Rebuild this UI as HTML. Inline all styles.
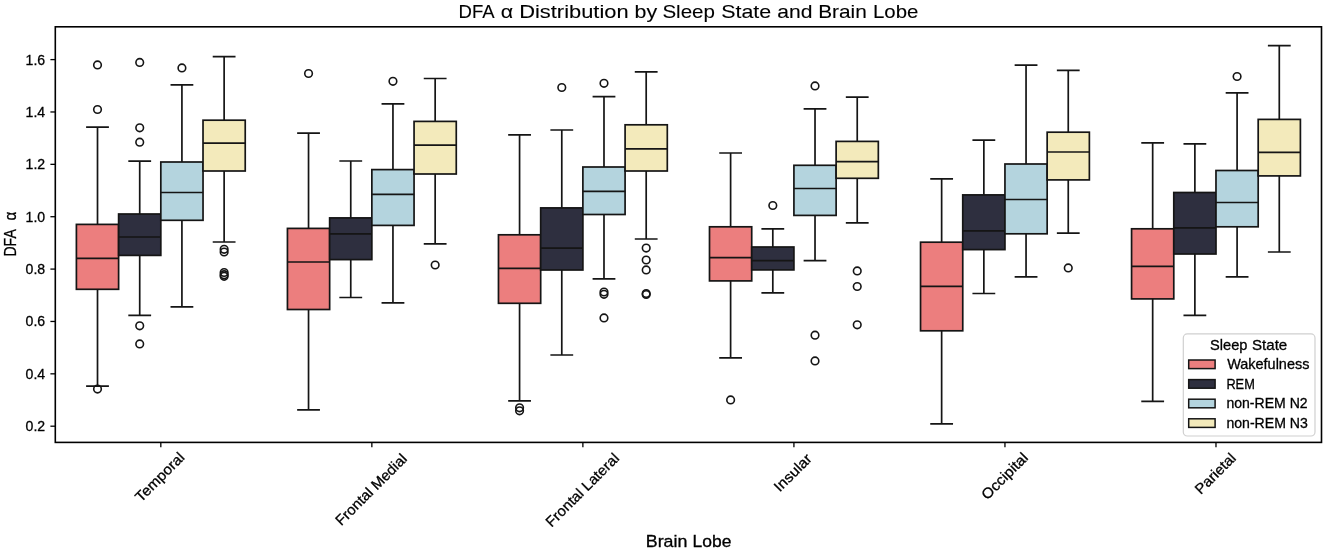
<!DOCTYPE html>
<html><head><meta charset="utf-8"><style>
html,body{margin:0;padding:0;background:#fff;}
svg{display:block;will-change:transform;}
text{font-family:"Liberation Sans",sans-serif;fill:#000;stroke:#000;stroke-width:0.3px;}
</style></head><body>
<svg width="1326" height="551" viewBox="0 0 1326 551">
<rect width="1326" height="551" fill="#fff"/>
<text x="458.6" y="18.3" font-size="19" style="stroke-width:0.1px" textLength="36.0" lengthAdjust="spacingAndGlyphs">DFA</text><text x="500.8" y="18.3" font-size="19" style="stroke-width:0.1px" textLength="12.4" lengthAdjust="spacingAndGlyphs">α</text><text x="519.2" y="18.3" font-size="19" style="stroke-width:0.1px" textLength="109.4" lengthAdjust="spacingAndGlyphs">Distribution</text><text x="634.6" y="18.3" font-size="19" style="stroke-width:0.1px" textLength="22.6" lengthAdjust="spacingAndGlyphs">by</text><text x="662.4" y="18.3" font-size="19" style="stroke-width:0.1px" textLength="52.6" lengthAdjust="spacingAndGlyphs">Sleep</text><text x="721.2" y="18.3" font-size="19" style="stroke-width:0.1px" textLength="50.0" lengthAdjust="spacingAndGlyphs">State</text><text x="777.2" y="18.3" font-size="19" style="stroke-width:0.1px" textLength="35.2" lengthAdjust="spacingAndGlyphs">and</text><text x="818.2" y="18.3" font-size="19" style="stroke-width:0.1px" textLength="48.6" lengthAdjust="spacingAndGlyphs">Brain</text><text x="873.0" y="18.3" font-size="19" style="stroke-width:0.1px" textLength="45.4" lengthAdjust="spacingAndGlyphs">Lobe</text>
<path d="M97.51 224.4V127.2M86.95 127.2H108.06M97.51 289.3V386.1M86.95 386.1H108.06" stroke="#151515" stroke-width="1.7" fill="none" stroke-linecap="square"/>
<rect x="76.4" y="224.4" width="42.21" height="64.9" fill="#ec7e7e" stroke="#151515" stroke-width="1.7"/>
<path d="M76.4 258.4H118.61" stroke="#151515" stroke-width="1.7"/>
<circle cx="97.51" cy="64.9" r="3.8" fill="none" stroke="#151515" stroke-width="1.6"/>
<circle cx="97.51" cy="109.5" r="3.8" fill="none" stroke="#151515" stroke-width="1.6"/>
<circle cx="97.51" cy="389.1" r="3.8" fill="none" stroke="#151515" stroke-width="1.6"/>
<path d="M139.71 214V161.2M129.16 161.2H150.27M139.71 255.4V315.3M129.16 315.3H150.27" stroke="#151515" stroke-width="1.7" fill="none" stroke-linecap="square"/>
<rect x="118.61" y="214" width="42.21" height="41.4" fill="#2e2f3f" stroke="#151515" stroke-width="1.7"/>
<path d="M118.61 237H160.82" stroke="#151515" stroke-width="1.7"/>
<circle cx="139.71" cy="62.4" r="3.8" fill="none" stroke="#151515" stroke-width="1.6"/>
<circle cx="139.71" cy="127.8" r="3.8" fill="none" stroke="#151515" stroke-width="1.6"/>
<circle cx="139.71" cy="142.2" r="3.8" fill="none" stroke="#151515" stroke-width="1.6"/>
<circle cx="139.71" cy="325.8" r="3.8" fill="none" stroke="#151515" stroke-width="1.6"/>
<circle cx="139.71" cy="343.9" r="3.8" fill="none" stroke="#151515" stroke-width="1.6"/>
<path d="M181.92 162V84.9M171.37 84.9H192.47M181.92 220.3V306.9M171.37 306.9H192.47" stroke="#151515" stroke-width="1.7" fill="none" stroke-linecap="square"/>
<rect x="160.82" y="162" width="42.21" height="58.3" fill="#b4d4de" stroke="#151515" stroke-width="1.7"/>
<path d="M160.82 192.5H203.02" stroke="#151515" stroke-width="1.7"/>
<circle cx="181.92" cy="67.9" r="3.8" fill="none" stroke="#151515" stroke-width="1.6"/>
<path d="M224.13 120.2V56.6M213.57 56.6H234.68M224.13 171V242M213.57 242H234.68" stroke="#151515" stroke-width="1.7" fill="none" stroke-linecap="square"/>
<rect x="203.02" y="120.2" width="42.21" height="50.8" fill="#f3eabb" stroke="#151515" stroke-width="1.7"/>
<path d="M203.02 143.2H245.23" stroke="#151515" stroke-width="1.7"/>
<circle cx="224.13" cy="249.3" r="3.8" fill="none" stroke="#151515" stroke-width="1.6"/>
<circle cx="224.13" cy="252" r="3.8" fill="none" stroke="#151515" stroke-width="1.6"/>
<circle cx="224.13" cy="272.5" r="3.8" fill="none" stroke="#151515" stroke-width="1.6"/>
<circle cx="224.13" cy="274.7" r="3.8" fill="none" stroke="#151515" stroke-width="1.6"/>
<circle cx="224.13" cy="276.3" r="3.8" fill="none" stroke="#151515" stroke-width="1.6"/>
<path d="M308.54 228.4V133.2M297.99 133.2H319.09M308.54 309.5V409.8M297.99 409.8H319.09" stroke="#151515" stroke-width="1.7" fill="none" stroke-linecap="square"/>
<rect x="287.44" y="228.4" width="42.21" height="81.1" fill="#ec7e7e" stroke="#151515" stroke-width="1.7"/>
<path d="M287.44 262H329.64" stroke="#151515" stroke-width="1.7"/>
<circle cx="308.54" cy="73.5" r="3.8" fill="none" stroke="#151515" stroke-width="1.6"/>
<path d="M350.75 217.9V161M340.19 161H361.3M350.75 259.6V297.5M340.19 297.5H361.3" stroke="#151515" stroke-width="1.7" fill="none" stroke-linecap="square"/>
<rect x="329.64" y="217.9" width="42.21" height="41.7" fill="#2e2f3f" stroke="#151515" stroke-width="1.7"/>
<path d="M329.64 233.8H371.85" stroke="#151515" stroke-width="1.7"/>
<path d="M392.95 169.6V103.9M382.4 103.9H403.51M392.95 225.4V302.9M382.4 302.9H403.51" stroke="#151515" stroke-width="1.7" fill="none" stroke-linecap="square"/>
<rect x="371.85" y="169.6" width="42.21" height="55.8" fill="#b4d4de" stroke="#151515" stroke-width="1.7"/>
<path d="M371.85 194.3H414.06" stroke="#151515" stroke-width="1.7"/>
<circle cx="392.95" cy="81.3" r="3.8" fill="none" stroke="#151515" stroke-width="1.6"/>
<path d="M435.16 121.4V78.5M424.61 78.5H445.71M435.16 174V243.8M424.61 243.8H445.71" stroke="#151515" stroke-width="1.7" fill="none" stroke-linecap="square"/>
<rect x="414.06" y="121.4" width="42.21" height="52.6" fill="#f3eabb" stroke="#151515" stroke-width="1.7"/>
<path d="M414.06 145.2H456.26" stroke="#151515" stroke-width="1.7"/>
<circle cx="435.16" cy="265" r="3.8" fill="none" stroke="#151515" stroke-width="1.6"/>
<path d="M519.57 234.8V134.8M509.02 134.8H530.12M519.57 303.3V400.9M509.02 400.9H530.12" stroke="#151515" stroke-width="1.7" fill="none" stroke-linecap="square"/>
<rect x="498.47" y="234.8" width="42.21" height="68.5" fill="#ec7e7e" stroke="#151515" stroke-width="1.7"/>
<path d="M498.47 268.4H540.68" stroke="#151515" stroke-width="1.7"/>
<circle cx="519.57" cy="407.8" r="3.8" fill="none" stroke="#151515" stroke-width="1.6"/>
<circle cx="519.57" cy="410.8" r="3.8" fill="none" stroke="#151515" stroke-width="1.6"/>
<path d="M561.78 207.9V130M551.23 130H572.33M561.78 270V355M551.23 355H572.33" stroke="#151515" stroke-width="1.7" fill="none" stroke-linecap="square"/>
<rect x="540.68" y="207.9" width="42.21" height="62.1" fill="#2e2f3f" stroke="#151515" stroke-width="1.7"/>
<path d="M540.68 248.2H582.88" stroke="#151515" stroke-width="1.7"/>
<circle cx="561.78" cy="87.5" r="3.8" fill="none" stroke="#151515" stroke-width="1.6"/>
<path d="M603.99 167V96.7M593.44 96.7H614.54M603.99 214.5V278.9M593.44 278.9H614.54" stroke="#151515" stroke-width="1.7" fill="none" stroke-linecap="square"/>
<rect x="582.88" y="167" width="42.21" height="47.5" fill="#b4d4de" stroke="#151515" stroke-width="1.7"/>
<path d="M582.88 191.3H625.09" stroke="#151515" stroke-width="1.7"/>
<circle cx="603.99" cy="83.3" r="3.8" fill="none" stroke="#151515" stroke-width="1.6"/>
<circle cx="603.99" cy="292" r="3.8" fill="none" stroke="#151515" stroke-width="1.6"/>
<circle cx="603.99" cy="294.3" r="3.8" fill="none" stroke="#151515" stroke-width="1.6"/>
<circle cx="603.99" cy="317.9" r="3.8" fill="none" stroke="#151515" stroke-width="1.6"/>
<path d="M646.19 124.8V71.9M635.64 71.9H656.75M646.19 171V239M635.64 239H656.75" stroke="#151515" stroke-width="1.7" fill="none" stroke-linecap="square"/>
<rect x="625.09" y="124.8" width="42.21" height="46.2" fill="#f3eabb" stroke="#151515" stroke-width="1.7"/>
<path d="M625.09 148.8H667.3" stroke="#151515" stroke-width="1.7"/>
<circle cx="646.19" cy="248.1" r="3.8" fill="none" stroke="#151515" stroke-width="1.6"/>
<circle cx="646.19" cy="260" r="3.8" fill="none" stroke="#151515" stroke-width="1.6"/>
<circle cx="646.19" cy="269.9" r="3.8" fill="none" stroke="#151515" stroke-width="1.6"/>
<circle cx="646.19" cy="293.5" r="3.8" fill="none" stroke="#151515" stroke-width="1.6"/>
<circle cx="646.19" cy="294.5" r="3.8" fill="none" stroke="#151515" stroke-width="1.6"/>
<path d="M730.61 226.8V153M720.05 153H741.16M730.61 280.9V357.9M720.05 357.9H741.16" stroke="#151515" stroke-width="1.7" fill="none" stroke-linecap="square"/>
<rect x="709.5" y="226.8" width="42.21" height="54.1" fill="#ec7e7e" stroke="#151515" stroke-width="1.7"/>
<path d="M709.5 257.6H751.71" stroke="#151515" stroke-width="1.7"/>
<circle cx="730.61" cy="399.9" r="3.8" fill="none" stroke="#151515" stroke-width="1.6"/>
<path d="M772.81 247V228.8M762.26 228.8H783.36M772.81 269.9V292.9M762.26 292.9H783.36" stroke="#151515" stroke-width="1.7" fill="none" stroke-linecap="square"/>
<rect x="751.71" y="247" width="42.21" height="22.9" fill="#2e2f3f" stroke="#151515" stroke-width="1.7"/>
<path d="M751.71 260.6H793.92" stroke="#151515" stroke-width="1.7"/>
<circle cx="772.81" cy="205.5" r="3.8" fill="none" stroke="#151515" stroke-width="1.6"/>
<path d="M815.02 165.3V108.9M804.47 108.9H825.57M815.02 215.4V260.6M804.47 260.6H825.57" stroke="#151515" stroke-width="1.7" fill="none" stroke-linecap="square"/>
<rect x="793.92" y="165.3" width="42.21" height="50.1" fill="#b4d4de" stroke="#151515" stroke-width="1.7"/>
<path d="M793.92 188.5H836.12" stroke="#151515" stroke-width="1.7"/>
<circle cx="815.02" cy="85.9" r="3.8" fill="none" stroke="#151515" stroke-width="1.6"/>
<circle cx="815.02" cy="335.2" r="3.8" fill="none" stroke="#151515" stroke-width="1.6"/>
<circle cx="815.02" cy="360.9" r="3.8" fill="none" stroke="#151515" stroke-width="1.6"/>
<path d="M857.23 141.4V97.1M846.68 97.1H867.78M857.23 178.3V222.8M846.68 222.8H867.78" stroke="#151515" stroke-width="1.7" fill="none" stroke-linecap="square"/>
<rect x="836.12" y="141.4" width="42.21" height="36.9" fill="#f3eabb" stroke="#151515" stroke-width="1.7"/>
<path d="M836.12 161.6H878.33" stroke="#151515" stroke-width="1.7"/>
<circle cx="857.23" cy="270.9" r="3.8" fill="none" stroke="#151515" stroke-width="1.6"/>
<circle cx="857.23" cy="286.5" r="3.8" fill="none" stroke="#151515" stroke-width="1.6"/>
<circle cx="857.23" cy="324.8" r="3.8" fill="none" stroke="#151515" stroke-width="1.6"/>
<path d="M941.64 242.2V178.9M931.09 178.9H952.19M941.64 330.8V423.8M931.09 423.8H952.19" stroke="#151515" stroke-width="1.7" fill="none" stroke-linecap="square"/>
<rect x="920.54" y="242.2" width="42.21" height="88.6" fill="#ec7e7e" stroke="#151515" stroke-width="1.7"/>
<path d="M920.54 286.3H962.74" stroke="#151515" stroke-width="1.7"/>
<path d="M983.85 194.9V140.2M973.29 140.2H994.4M983.85 249.6V293.5M973.29 293.5H994.4" stroke="#151515" stroke-width="1.7" fill="none" stroke-linecap="square"/>
<rect x="962.74" y="194.9" width="42.21" height="54.7" fill="#2e2f3f" stroke="#151515" stroke-width="1.7"/>
<path d="M962.74 230.8H1004.95" stroke="#151515" stroke-width="1.7"/>
<path d="M1026.05 164V65.1M1015.5 65.1H1036.61M1026.05 233.8V276.9M1015.5 276.9H1036.61" stroke="#151515" stroke-width="1.7" fill="none" stroke-linecap="square"/>
<rect x="1004.95" y="164" width="42.21" height="69.8" fill="#b4d4de" stroke="#151515" stroke-width="1.7"/>
<path d="M1004.95 199.5H1047.16" stroke="#151515" stroke-width="1.7"/>
<path d="M1068.26 132.2V70.3M1057.71 70.3H1078.81M1068.26 179.9V233.2M1057.71 233.2H1078.81" stroke="#151515" stroke-width="1.7" fill="none" stroke-linecap="square"/>
<rect x="1047.16" y="132.2" width="42.21" height="47.7" fill="#f3eabb" stroke="#151515" stroke-width="1.7"/>
<path d="M1047.16 152H1089.36" stroke="#151515" stroke-width="1.7"/>
<circle cx="1068.26" cy="267.9" r="3.8" fill="none" stroke="#151515" stroke-width="1.6"/>
<path d="M1152.67 228.8V142.8M1142.12 142.8H1163.23M1152.67 298.9V401.3M1142.12 401.3H1163.23" stroke="#151515" stroke-width="1.7" fill="none" stroke-linecap="square"/>
<rect x="1131.57" y="228.8" width="42.21" height="70.1" fill="#ec7e7e" stroke="#151515" stroke-width="1.7"/>
<path d="M1131.57 266.3H1173.78" stroke="#151515" stroke-width="1.7"/>
<path d="M1194.88 192.5V143.8M1184.33 143.8H1205.43M1194.88 254V315.4M1184.33 315.4H1205.43" stroke="#151515" stroke-width="1.7" fill="none" stroke-linecap="square"/>
<rect x="1173.78" y="192.5" width="42.21" height="61.5" fill="#2e2f3f" stroke="#151515" stroke-width="1.7"/>
<path d="M1173.78 227.8H1215.98" stroke="#151515" stroke-width="1.7"/>
<path d="M1237.09 170.5V92.9M1226.53 92.9H1247.64M1237.09 226.8V276.9M1226.53 276.9H1247.64" stroke="#151515" stroke-width="1.7" fill="none" stroke-linecap="square"/>
<rect x="1215.98" y="170.5" width="42.21" height="56.3" fill="#b4d4de" stroke="#151515" stroke-width="1.7"/>
<path d="M1215.98 202.5H1258.19" stroke="#151515" stroke-width="1.7"/>
<circle cx="1237.09" cy="76.5" r="3.8" fill="none" stroke="#151515" stroke-width="1.6"/>
<path d="M1279.29 119.4V45.6M1268.74 45.6H1289.85M1279.29 175.9V252M1268.74 252H1289.85" stroke="#151515" stroke-width="1.7" fill="none" stroke-linecap="square"/>
<rect x="1258.19" y="119.4" width="42.21" height="56.5" fill="#f3eabb" stroke="#151515" stroke-width="1.7"/>
<path d="M1258.19 152.4H1300.4" stroke="#151515" stroke-width="1.7"/>
<path d="M50.4 426.2H55.3" stroke="#000" stroke-width="1.3"/><text x="45.2" y="431.2" text-anchor="end" font-size="14.5" textLength="19.6" lengthAdjust="spacingAndGlyphs">0.2</text><path d="M50.4 373.83H55.3" stroke="#000" stroke-width="1.3"/><text x="45.2" y="378.83" text-anchor="end" font-size="14.5" textLength="19.6" lengthAdjust="spacingAndGlyphs">0.4</text><path d="M50.4 321.46H55.3" stroke="#000" stroke-width="1.3"/><text x="45.2" y="326.46" text-anchor="end" font-size="14.5" textLength="19.6" lengthAdjust="spacingAndGlyphs">0.6</text><path d="M50.4 269.09H55.3" stroke="#000" stroke-width="1.3"/><text x="45.2" y="274.09" text-anchor="end" font-size="14.5" textLength="19.6" lengthAdjust="spacingAndGlyphs">0.8</text><path d="M50.4 216.71H55.3" stroke="#000" stroke-width="1.3"/><text x="45.2" y="221.71" text-anchor="end" font-size="14.5" textLength="19.6" lengthAdjust="spacingAndGlyphs">1.0</text><path d="M50.4 164.34H55.3" stroke="#000" stroke-width="1.3"/><text x="45.2" y="169.34" text-anchor="end" font-size="14.5" textLength="19.6" lengthAdjust="spacingAndGlyphs">1.2</text><path d="M50.4 111.97H55.3" stroke="#000" stroke-width="1.3"/><text x="45.2" y="116.97" text-anchor="end" font-size="14.5" textLength="19.6" lengthAdjust="spacingAndGlyphs">1.4</text><path d="M50.4 59.6H55.3" stroke="#000" stroke-width="1.3"/><text x="45.2" y="64.6" text-anchor="end" font-size="14.5" textLength="19.6" lengthAdjust="spacingAndGlyphs">1.6</text>
<path d="M160.82 442.4V447.3" stroke="#000" stroke-width="1.3"/><text transform="translate(163.2,480.5) rotate(-45)" text-anchor="middle" font-size="14.5" textLength="62.8" lengthAdjust="spacingAndGlyphs">Temporal</text><path d="M371.85 442.4V447.3" stroke="#000" stroke-width="1.3"/><text transform="translate(374.55,493.05) rotate(-45)" text-anchor="middle" font-size="14.5" textLength="94.1" lengthAdjust="spacingAndGlyphs">Frontal Medial</text><path d="M582.88 442.4V447.3" stroke="#000" stroke-width="1.3"/><text transform="translate(585.8,493.45) rotate(-45)" text-anchor="middle" font-size="14.5" textLength="96.7" lengthAdjust="spacingAndGlyphs">Frontal Lateral</text><path d="M793.92 442.4V447.3" stroke="#000" stroke-width="1.3"/><text transform="translate(796.2,476.1) rotate(-45)" text-anchor="middle" font-size="14.5" textLength="46.5" lengthAdjust="spacingAndGlyphs">Insular</text><path d="M1004.95 442.4V447.3" stroke="#000" stroke-width="1.3"/><text transform="translate(1008.05,479.55) rotate(-45)" text-anchor="middle" font-size="14.5" textLength="59" lengthAdjust="spacingAndGlyphs">Occipital</text><path d="M1215.98 442.4V447.3" stroke="#000" stroke-width="1.3"/><text transform="translate(1218.75,477.05) rotate(-45)" text-anchor="middle" font-size="14.5" textLength="50.9" lengthAdjust="spacingAndGlyphs">Parietal</text>
<rect x="55.3" y="26.8" width="1266.2" height="415.6" fill="none" stroke="#000" stroke-width="1.6"/>
<text x="645.8" y="546.8" font-size="16.3" textLength="41.6" lengthAdjust="spacingAndGlyphs">Brain</text><text x="692.6" y="546.8" font-size="16.3" textLength="38.8" lengthAdjust="spacingAndGlyphs">Lobe</text>
<text transform="translate(16.2,256.6) rotate(-90)" font-size="16.7" textLength="27.4" lengthAdjust="spacingAndGlyphs">DFA</text><text transform="translate(16.2,220.6) rotate(-90)" font-size="16.7" textLength="8.8" lengthAdjust="spacingAndGlyphs">α</text>
<rect x="1183.3" y="333.9" width="131.7" height="102.1" rx="4" ry="4" fill="#fff" fill-opacity="0.8" stroke="#d0d0d0" stroke-width="1.2"/>
<text x="1210.0" y="349.9" font-size="14.5" textLength="37.4" lengthAdjust="spacingAndGlyphs">Sleep</text><text x="1252.0" y="349.9" font-size="14.5" textLength="35.2" lengthAdjust="spacingAndGlyphs">State</text>
<rect x="1188.7" y="360" width="26.4" height="8.6" fill="#ec7e7e" stroke="#151515" stroke-width="1.5"/>
<rect x="1188.7" y="379.6" width="26.4" height="8.6" fill="#2e2f3f" stroke="#151515" stroke-width="1.5"/>
<rect x="1188.7" y="399.2" width="26.4" height="8.6" fill="#b4d4de" stroke="#151515" stroke-width="1.5"/>
<rect x="1188.7" y="418.8" width="26.4" height="8.6" fill="#f3eabb" stroke="#151515" stroke-width="1.5"/>
<text x="1227.2" y="368.5" font-size="14.5" textLength="82.2" lengthAdjust="spacingAndGlyphs">Wakefulness</text><text x="1226.4" y="388.7" font-size="14.5" textLength="28.4" lengthAdjust="spacingAndGlyphs">REM</text><text x="1226.4" y="408.2" font-size="14.5" textLength="81.2" lengthAdjust="spacingAndGlyphs">non-REM N2</text><text x="1226.4" y="427.7" font-size="14.5" textLength="81.4" lengthAdjust="spacingAndGlyphs">non-REM N3</text>
</svg>
</body></html>
